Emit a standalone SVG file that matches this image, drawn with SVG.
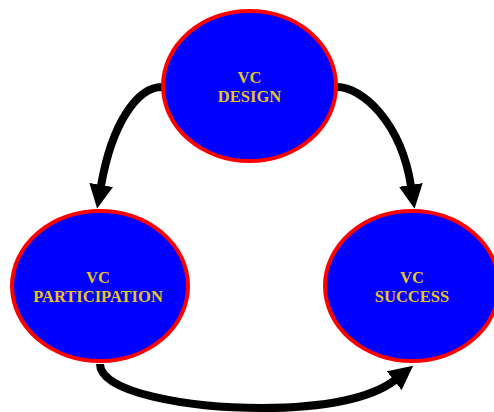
<svg xmlns="http://www.w3.org/2000/svg" width="494" height="412" viewBox="0 0 494 412">
<defs>
<style>
.node ellipse{fill:#0000FF;stroke:#FF0000;stroke-width:4}
.node text{font-family:"Liberation Serif","Times New Roman",serif;font-weight:bold;font-size:16.5px;fill:#E8C41E;text-anchor:middle}
.conn path{fill:none;stroke:#000;stroke-width:8;marker-end:url(#ah)}
</style>
<marker id="ah" viewBox="0 0 23 23" refX="1" refY="11.5" markerWidth="24" markerHeight="24" markerUnits="userSpaceOnUse" orient="auto">
<path d="M0,0 L23,11.5 L0,23 z" fill="#000"/>
</marker>
</defs>
<rect width="494" height="412" fill="#fff"/>
<g id="connectors" class="conn">
<path d="M162,87 C138,87 112,122 101,186"/>
<path d="M337,87 C362,87 401,122 411,186"/>
<path d="M100,364 C100,393 190,408 262,408 C325,408 372,398 395,380"/>
</g>
<g id="design" class="node">
<ellipse cx="249.5" cy="86" rx="86.5" ry="75"/>
<text x="249.5" y="83">VC</text>
<text x="249.5" y="102">DESIGN</text>
</g>
<g id="participation" class="node">
<ellipse cx="100" cy="286" rx="88" ry="75"/>
<text x="98" y="283">VC</text>
<text x="98" y="302">PARTICIPATION</text>
</g>
<g id="success" class="node">
<ellipse cx="412" cy="286" rx="87" ry="75"/>
<text x="412" y="283">VC</text>
<text x="412" y="302">SUCCESS</text>
</g>
</svg>
